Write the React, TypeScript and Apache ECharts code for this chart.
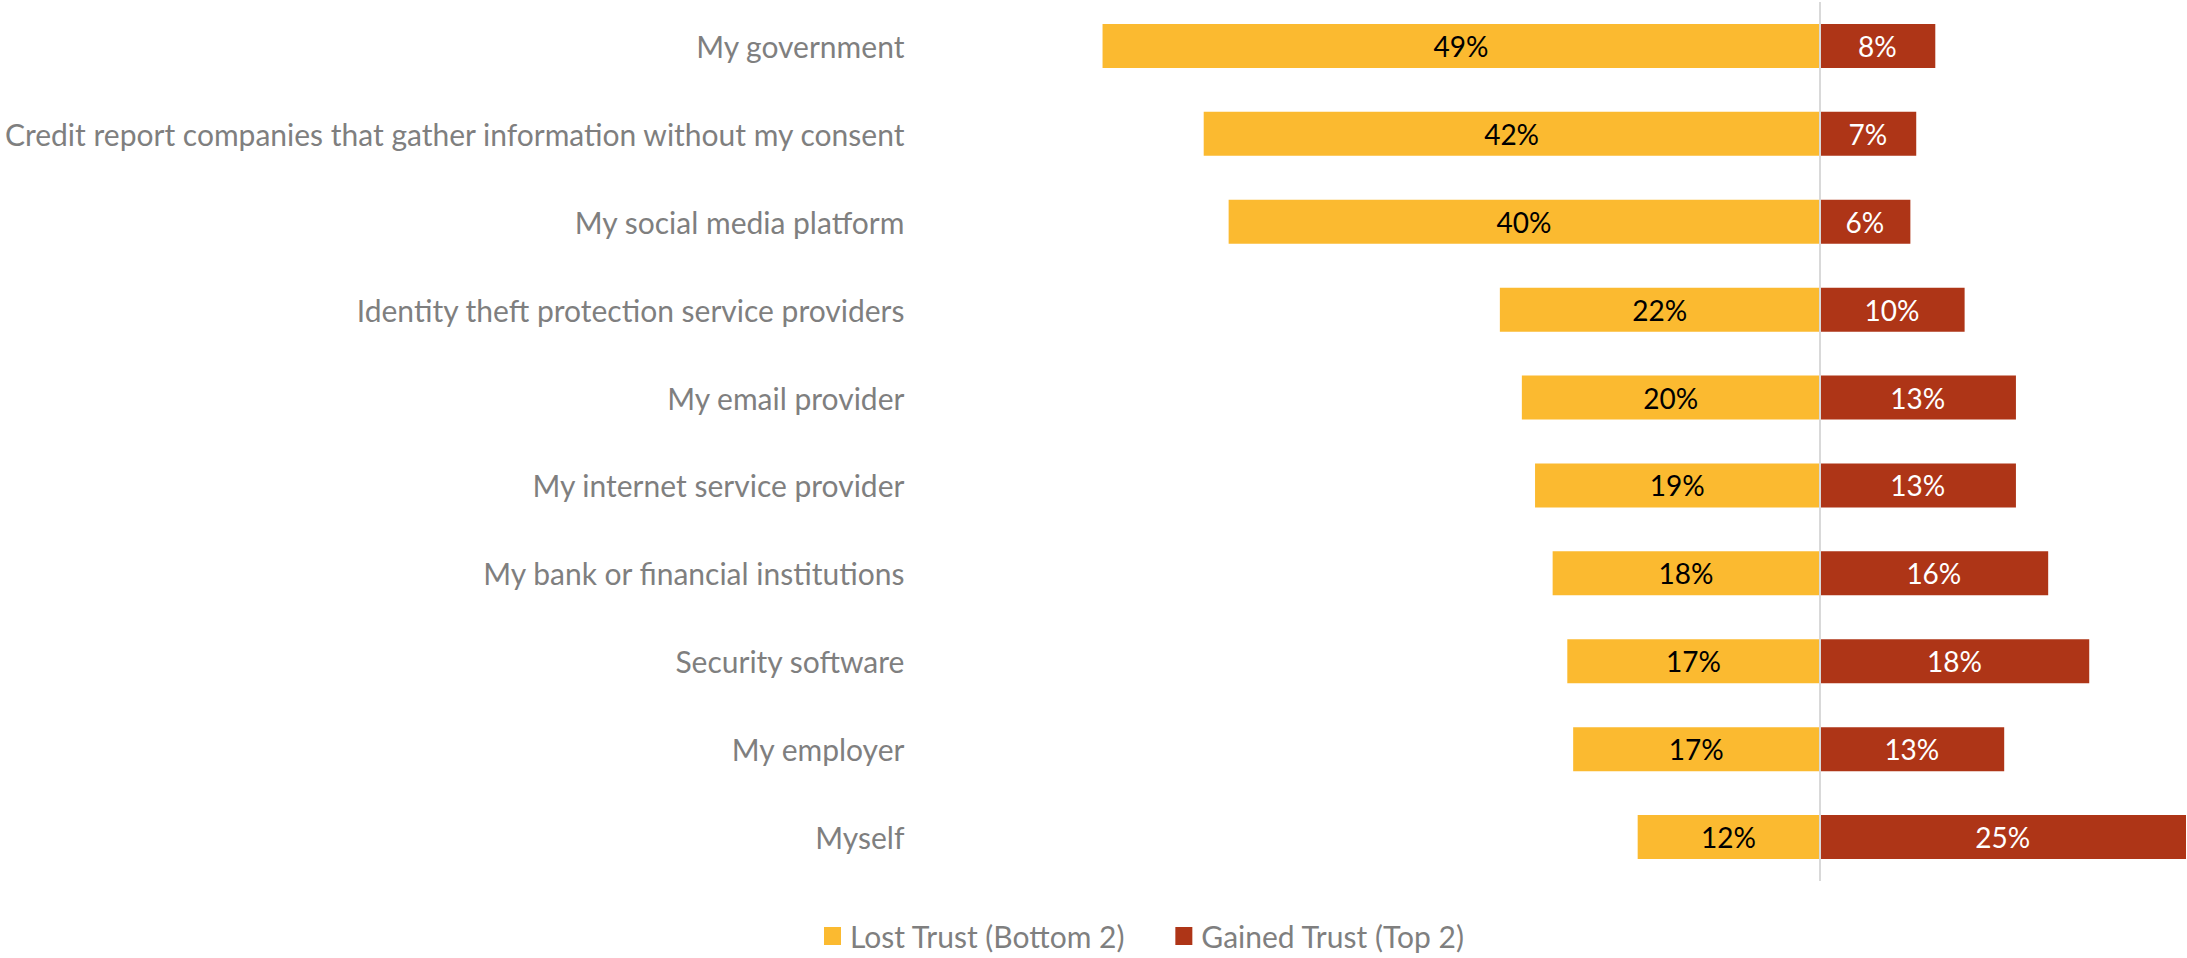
import React, { useEffect, useRef } from "react";
import * as echarts from "echarts";

const categories = [
  "My government",
  "Credit report companies that gather information without my consent",
  "My social media platform",
  "Identity theft protection service providers",
  "My email provider",
  "My internet service provider",
  "My bank or financial institutions",
  "Security software",
  "My employer",
  "Myself",
];
// percent values (labels show rounded values)
const lostTrust = [48.9, 42.0, 40.3, 21.8, 20.3, 19.4, 18.2, 17.2, 16.8, 12.4];
const gainedTrust = [7.9, 6.6, 6.2, 9.9, 13.4, 13.4, 15.6, 18.4, 12.6, 25.0];
const seriesNames = ["Lost Trust (Bottom 2)", "Gained Trust (Top 2)"];
const axisMin = -50;
const axisMax = 25;

const FONT = "Lato, 'Noto Sans', sans-serif";
const YELLOW = "#FBBA30";
const RED = "#AE3517";
const GREY = "#7F7F7F";

export default function App() {
  const ref = useRef<HTMLDivElement>(null);
  useEffect(() => {
    if (!ref.current) return;
    const chart = echarts.init(ref.current, undefined, { renderer: "svg" });
    const fmt = (p: any) => Math.round(Math.abs(p.value)) + "%";
    chart.setOption({
      animation: false,
      backgroundColor: "#ffffff",
      textStyle: { fontFamily: FONT },
      grid: { left: 1080, right: 1, top: 2, height: 879, containLabel: false },
      legend: {
        left: 819,
        top: 916,
        itemWidth: 17,
        itemHeight: 18,
        itemGap: 50,
        icon: "rect",
        textStyle: { color: GREY, fontSize: 30, fontFamily: FONT, padding: [0, 0, 0, 4] },
        data: seriesNames,
      },
      xAxis: {
        type: "value",
        min: axisMin,
        max: axisMax,
        show: false,
        splitLine: { show: false },
      },
      yAxis: {
        type: "category",
        data: categories,
        inverse: true,
        axisLine: { show: false },
        axisTick: { show: false },
        axisLabel: {
          margin: 182,
          color: GREY,
          fontSize: 30,
          fontFamily: FONT,
        },
      },
      series: [
        {
          name: seriesNames[0],
          type: "bar",
          stack: "total",
          barWidth: 44,
          itemStyle: { color: YELLOW },
          label: {
            show: true,
            position: "inside",
            color: "#000000",
            fontSize: 28,
            fontFamily: FONT,
            formatter: fmt,
          },
          data: lostTrust.map((v) => -v),
          markLine: {
            silent: true,
            symbol: "none",
            label: { show: false },
            lineStyle: { color: "#D9D9D9", width: 2, type: "solid" },
            data: [{ xAxis: 0 }],
          },
        },
        {
          name: seriesNames[1],
          type: "bar",
          stack: "total",
          barWidth: 44,
          itemStyle: { color: RED },
          label: {
            show: true,
            position: "inside",
            color: "#ffffff",
            fontSize: 28,
            fontFamily: FONT,
            formatter: fmt,
          },
          data: gainedTrust,
        },
      ],
    });
    return () => chart.dispose();
  }, []);
  return (
    <div
      ref={ref}
      style={{ position: "absolute", left: 0, top: 0, width: 2187, height: 958 }}
    />
  );
}
